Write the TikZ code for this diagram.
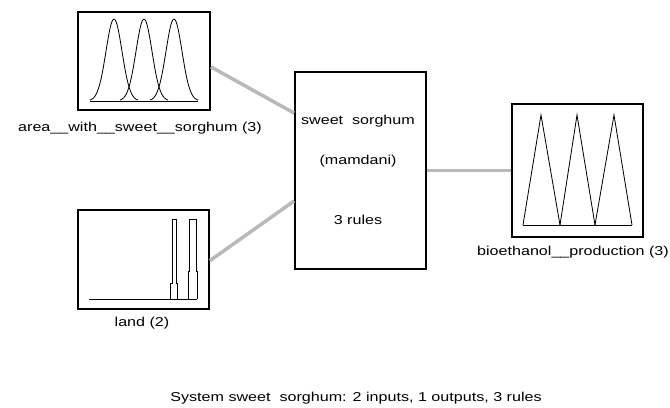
\documentclass[tikz,border=0pt]{standalone}
\usepackage{fontspec}
\setmainfont{Liberation Sans}[FakeStretch=1.25]
\usetikzlibrary{positioning}
\tikzset{
	x=0.03cm, y=-0.03cm,
	mfbox/.style={draw, line width=1.5pt, inner sep=0pt},
	lbl/.style={font=\fontsize{11pt}{13pt}\selectfont, inner sep=1pt},
	conn/.style={draw=gray!55, line width=3pt},
	mf/.style={line width=0.7pt}
}

\begin{document}
\begin{tikzpicture}
\useasboundingbox (0,0) rectangle (670,407);

\node[mfbox, minimum width=3.96cm, minimum height=2.94cm] (area) at (144,61) {};
\node[mfbox, minimum width=3.93cm, minimum height=2.97cm] (land) at (143.5,259.5) {};
\node[mfbox, minimum width=3.93cm, minimum height=5.91cm] (sys) at (360.5,170.5) {};
\node[mfbox, minimum width=3.93cm, minimum height=3.99cm] (prod) at (577.5,170.5) {};

\node[lbl] (arealbl) at (140,128) {area\_\_with\_\_sweet\_\_sorghum (3)};
\node[lbl] (landlbl) at (142,323) {land (2)};
\node[lbl] (prodlbl) at (573,252) {bioethanol\_\_production (3)};

\node[lbl] (sysname) at (358,121) {sweet~~sorghum};
\node[lbl] (systype) at (358,161) {(mamdani)};
\node[lbl] (sysrules) at (358,220) {3 rules};

\node[lbl] (caption) at (356,398) {System sweet~~sorghum: 2 inputs, 1 outputs, 3 rules};

% connectors
\draw[conn] ([yshift=-5pt]area.east) -- ([yshift=49pt]sys.west);
\draw[conn] ([yshift=-1pt]land.east) -- ([yshift=-26pt]sys.west);
\draw[conn] (sys.east) -- (prod.west);

% input 1
\draw[mf] (90,101) -- (198,101);
\draw[mf] plot[domain=-24:24, samples=40, smooth] ({114+\x},{101-82*exp(-\x*\x/128)});
\draw[mf] plot[domain=-24:24, samples=40, smooth] ({144+\x},{101-82*exp(-\x*\x/128)});
\draw[mf] plot[domain=-24:24, samples=40, smooth] ({174+\x},{101-82*exp(-\x*\x/128)});

% input 2
\draw[mf] (89,299) -- (197,299);
\draw[mf] (170,299) -- (170,283) -- (172,283) -- (172,219) -- (176,219) -- (176,283) -- (177,283) -- (177,299);
\draw[mf] (188,299) -- (188,271) -- (189,271) -- (189,219) -- (196,219) -- (196,271) -- (197,271) -- (197,299);

% output
\draw[mf] (523,225) -- (632,225);
\draw[mf] (523,225) -- (541,115) -- (560,225);
\draw[mf] (560,225) -- (577,115) -- (595,225);
\draw[mf] (595,225) -- (614,115) -- (632,225);
\end{tikzpicture}
\end{document}
